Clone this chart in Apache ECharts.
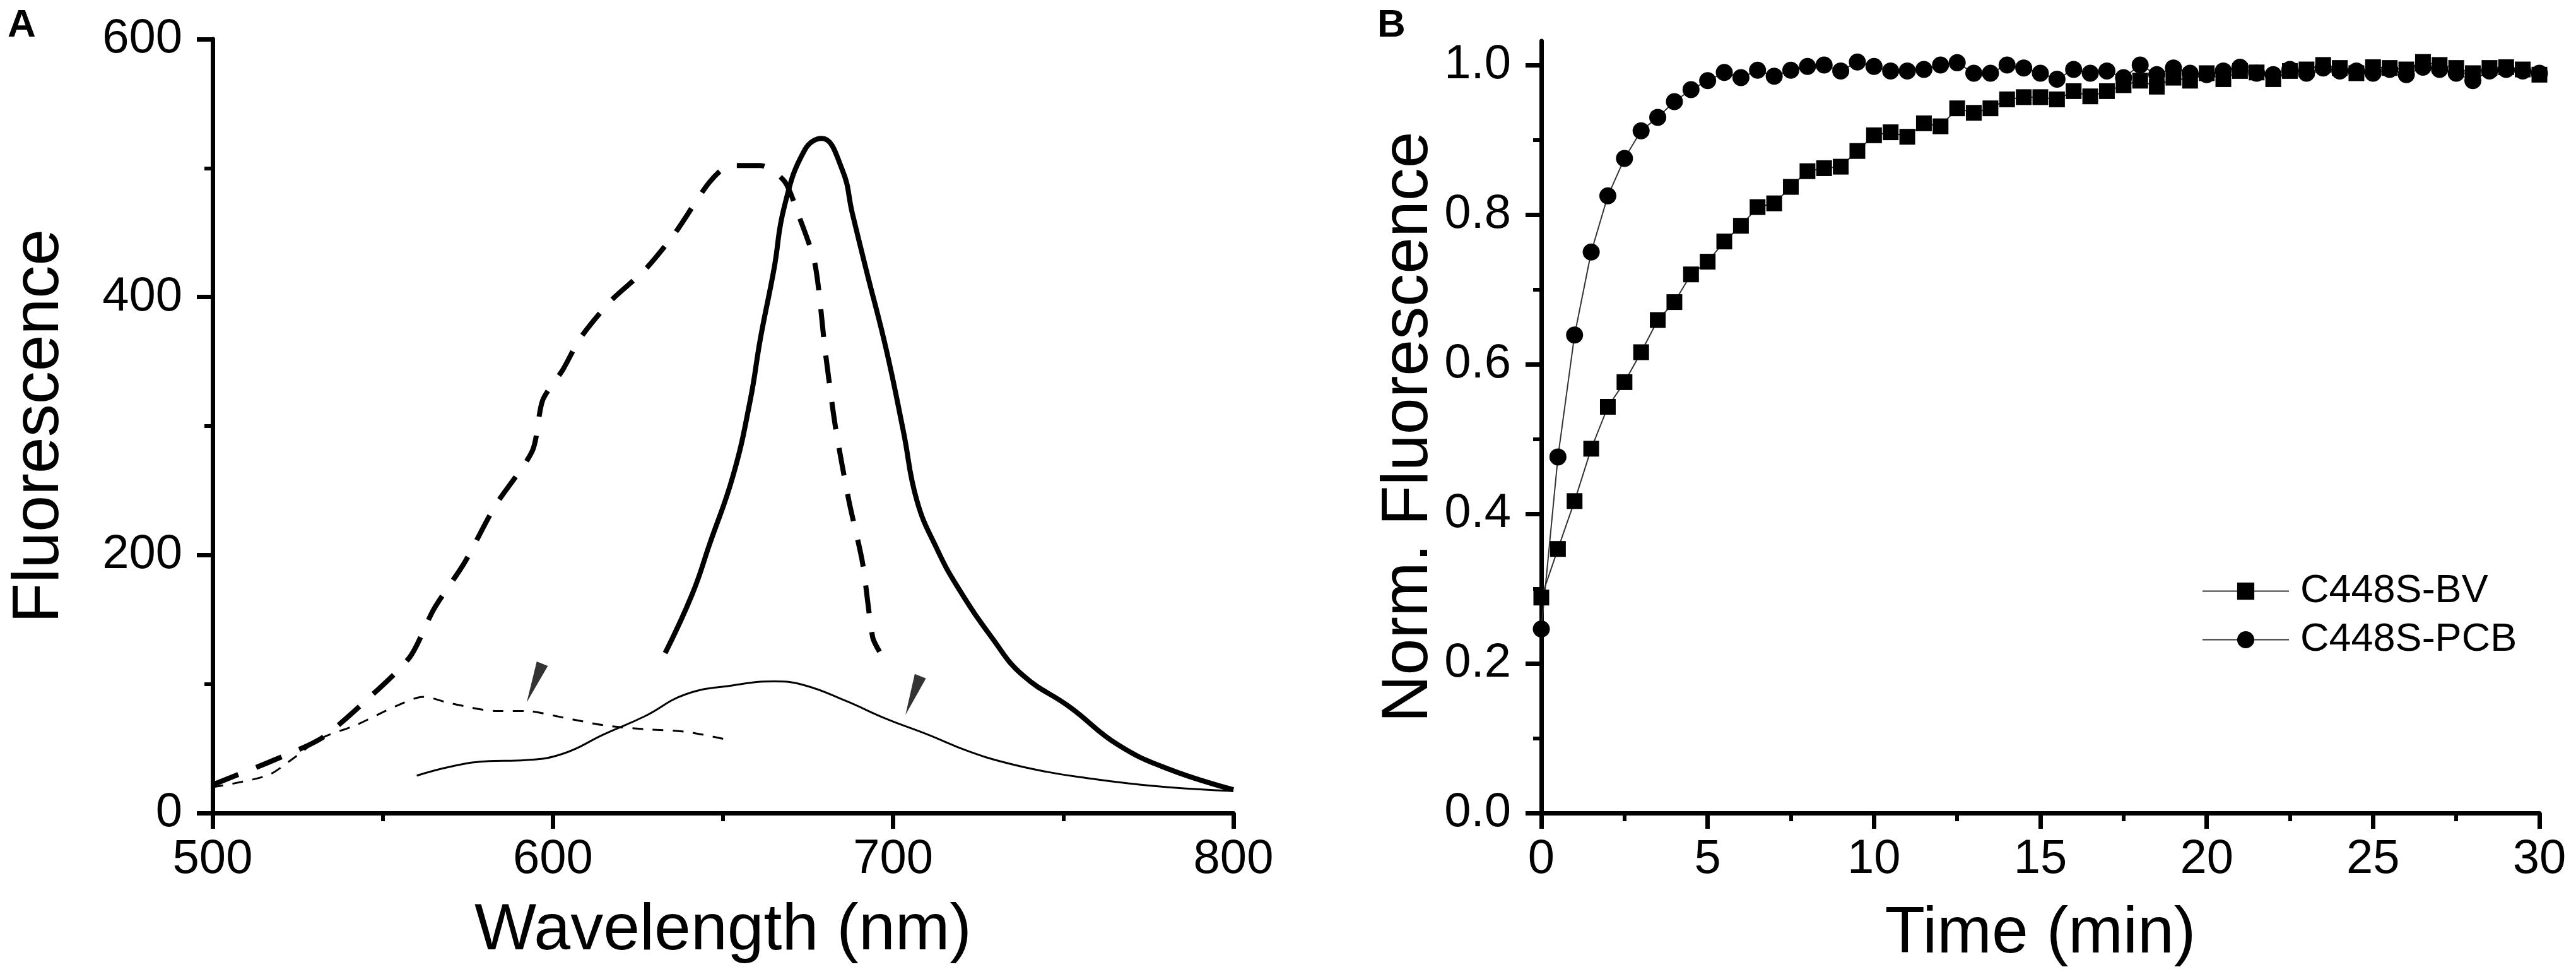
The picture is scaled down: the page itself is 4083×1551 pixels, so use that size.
<!DOCTYPE html>
<html>
<head>
<meta charset="utf-8">
<script src="https://cdn.jsdelivr.net/npm/echarts@6/dist/echarts.min.js"></script>
<style>
html,body{margin:0;padding:0;background:#ffffff;}
#chart{width:4083px;height:1551px;}
</style>
</head>
<body>
<div id="chart"></div>
<script>
// ---------- Panel A : spectra (wavelength nm vs fluorescence) ----------
const boldDashedX = [500,502,518,532,545,558,565,574,583,594,597,603,608,617,627,636,646,652,661,668,672,677,680,683,687,691,694,696];
const boldDashedY = [22,24,41,58,87,121,158,194,238,281,320,344,368,397,421,450,489,502,502,490,465,426,359,300,242,194,136,125];

const boldSolidX = [633,641,646,653,658,661,665,668,674,679,685,688,692,698,703,707,713,719,729,738,752,766,781,800];
const boldSolidY = [124,170,208,262,320,368,422,470,514,523,499,465,422,359,296,242,204,175,136,107,82,53,34,18];

const thinDashedX = [500,516,523,532,542,554,562,570,584,592,603,615,627,639,651];
const thinDashedY = [20,29,41,58,68,83,90,85,79,79,74,68,65,63,57];

const thinSolidX = [560,570,580,592,603,615,627,639,653,665,674,686,698,710,722,733,745,757,769,781,800];
const thinSolidY = [29,36,40,41,46,61,75,92,99,102,99,87,73,61,48,39,32,27,23,20,17];

const arrowX = [594.6,705.8];
const arrowY = [100.8,91];

// ---------- Panel B : kinetics ----------
const timeMin = [0,0.5,1,1.5,2,2.5,3,3.5,4,4.5,5,5.5,6,6.5,7,7.5,8,8.5,9,9.5,10,10.5,11,11.5,12,12.5,13,13.5,14,14.5,15,15.5,16,16.5,17,17.5,18,18.5,19,19.5,20,20.5,21,21.5,22,22.5,23,23.5,24,24.5,25,25.5,26,26.5,27,27.5,28,28.5,29,29.5,30];
const c448sBV = [0.288,0.353,0.417,0.487,0.543,0.576,0.616,0.659,0.683,0.720,0.737,0.764,0.785,0.810,0.815,0.837,0.858,0.862,0.864,0.885,0.906,0.910,0.904,0.922,0.918,0.942,0.936,0.942,0.954,0.957,0.957,0.954,0.965,0.958,0.965,0.973,0.979,0.971,0.983,0.979,0.989,0.981,0.992,0.990,0.981,0.992,0.994,1.000,0.996,0.989,0.997,0.996,0.994,1.004,1.000,0.996,0.989,0.996,0.997,0.994,0.987];
const c448sPCB = [0.246,0.476,0.639,0.750,0.825,0.875,0.912,0.930,0.951,0.967,0.979,0.990,0.983,0.993,0.985,0.993,0.998,1.000,0.992,1.004,0.998,0.992,0.992,0.994,1.000,1.003,0.989,0.989,1.000,0.996,0.989,0.981,0.994,0.989,0.992,0.983,1.000,0.987,0.996,0.989,0.987,0.992,0.997,0.989,0.987,0.994,0.989,0.996,0.992,0.992,0.989,0.994,0.987,0.997,0.994,0.989,0.979,0.992,0.994,0.992,0.989];
const seriesNames = ['C448S-BV','C448S-PCB'];
const normTicks = [0,0.2,0.4,0.6,0.8,1.0];
const normMinorTicks = [0.1,0.3,0.5,0.7,0.9];

// ---------- helpers ----------
const FONT = 'Liberation Sans, Arial, sans-serif';
function pairs(xs, ys){ return xs.map((x,i)=>[x, ys[i]]); }

const axisLine = {show:true, onZero:false, lineStyle:{color:'#000', width:7}};
const axisTick = {show:true, inside:false, length:25, lineStyle:{color:'#000', width:7}};
const minorTick = {show:true, splitNumber:2, length:13, lineStyle:{color:'#000', width:6}};
const tickLabel = {color:'#000', fontSize:76, fontFamily:FONT};
const nameStyle = {color:'#000', fontSize:104, fontFamily:FONT};

const arrowRotation = [158, 159];

const option = {
  backgroundColor:'#ffffff',
  animation:false,
  title:[
    {text:'A', left:12, top:10, padding:0, textStyle:{fontSize:62, fontWeight:'bold', fontFamily:FONT, color:'#000'}},
    {text:'B', left:2183, top:10, padding:0, textStyle:{fontSize:62, fontWeight:'bold', fontFamily:FONT, color:'#000'}}
  ],
  grid:[
    {left:337, top:62, width:1618, height:1226},
    {left:2443, top:65, width:1582, height:1223}
  ],
  xAxis:[
    {type:'value', gridIndex:0, min:500, max:800, interval:100,
     name:'Wavelength (nm)', nameLocation:'middle', nameGap:135, nameTextStyle:nameStyle,
     axisLine:axisLine, axisTick:axisTick, minorTick:minorTick,
     axisLabel:Object.assign({margin:36}, tickLabel), splitLine:{show:false}},
    {type:'value', gridIndex:1, min:0, max:30, interval:5,
     name:'Time (min)', nameLocation:'middle', nameGap:140, nameTextStyle:nameStyle,
     axisLine:axisLine, axisTick:axisTick, minorTick:minorTick,
     axisLabel:Object.assign({margin:36}, tickLabel), splitLine:{show:false}}
  ],
  yAxis:[
    {type:'value', gridIndex:0, min:0, max:600, interval:200, position:'left',
     name:'Fluorescence', nameLocation:'middle', nameGap:222, nameTextStyle:nameStyle,
     axisLine:axisLine, axisTick:axisTick, minorTick:minorTick,
     axisLabel:Object.assign({margin:48}, tickLabel), splitLine:{show:false}},
    {type:'value', gridIndex:1, min:0, max:1.032, position:'left',
     name:'Norm. Fluorescence', nameLocation:'middle', nameGap:150, nameTextStyle:nameStyle,
     axisLine:axisLine,
     axisTick:Object.assign({customValues:normTicks}, axisTick),
     axisLabel:Object.assign({margin:48, customValues:normTicks, formatter:(v)=>v.toFixed(1)}, tickLabel),
     splitLine:{show:false}},
    {type:'value', gridIndex:1, min:0, max:1.032, position:'left',
     axisLine:{show:false}, axisLabel:{show:false}, splitLine:{show:false},
     axisTick:{show:true, inside:false, length:13, customValues:normMinorTicks, lineStyle:{color:'#000', width:6}}}
  ],
  legend:{
    orient:'vertical', left:3485, top:900, itemWidth:137, itemHeight:34, itemGap:14,
    data:seriesNames,
    textStyle:{fontSize:63, fontFamily:FONT, color:'#000', padding:[0,0,0,13]}
  },
  series:[
    {type:'line', xAxisIndex:0, yAxisIndex:0, data:pairs(boldDashedX, boldDashedY), showSymbol:false, symbol:'none',
     smooth:0.25, lineStyle:{color:'#000', width:8, type:[44,30]}, silent:true},
    {type:'line', xAxisIndex:0, yAxisIndex:0, data:pairs(boldSolidX, boldSolidY), showSymbol:false, symbol:'none',
     smooth:0.45, lineStyle:{color:'#000', width:8}, silent:true},
    {type:'line', xAxisIndex:0, yAxisIndex:0, data:pairs(thinDashedX, thinDashedY), showSymbol:false, symbol:'none',
     smooth:0.3, lineStyle:{color:'#000', width:3, type:[17,15]}, silent:true},
    {type:'line', xAxisIndex:0, yAxisIndex:0, data:pairs(thinSolidX, thinSolidY), showSymbol:false, symbol:'none',
     smooth:0.45, lineStyle:{color:'#000', width:3}, silent:true},
    {type:'scatter', xAxisIndex:0, yAxisIndex:0, symbol:'triangle', symbolSize:[19,66],
     data:arrowX.map((x,i)=>({value:[x, arrowY[i]], symbolRotate:arrowRotation[i]})),
     itemStyle:{color:'#000'}, silent:true},
    {name:seriesNames[0], type:'line', xAxisIndex:1, yAxisIndex:1, data:pairs(timeMin, c448sBV),
     symbol:'rect', symbolSize:25, showSymbol:true,
     itemStyle:{color:'#000'}, lineStyle:{color:'#333', width:2}},
    {name:seriesNames[1], type:'line', xAxisIndex:1, yAxisIndex:1, data:pairs(timeMin, c448sPCB),
     symbol:'circle', symbolSize:27, showSymbol:true,
     itemStyle:{color:'#000'}, lineStyle:{color:'#333', width:2}}
  ]
};

const chart = echarts.init(document.getElementById('chart'), null, {renderer:'canvas'});
chart.setOption(option);
</script>
</body>
</html>
